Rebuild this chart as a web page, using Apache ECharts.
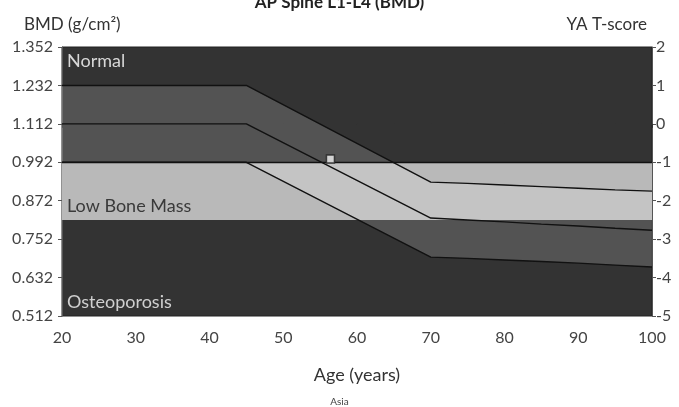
<!DOCTYPE html>
<html>
<head>
<meta charset="utf-8">
<script src="https://cdn.jsdelivr.net/npm/echarts@6/dist/echarts.min.js"></script>
<style>
  html, body { margin: 0; padding: 0; background: #fff; }
  #chart-container { width: 679px; height: 407px; }
</style>
</head>
<body>
<div id="chart-container"></div>
<script>
var dom = document.getElementById("chart-container");
var myChart = echarts.init(dom, null, { renderer: "canvas" });

// reference curve (BMD, g/cm2) by age
var ages = [20, 45, 70, 75, 80, 85, 90, 95, 100];
var upperCurve = [1.232, 1.232, 0.930, 0.926, 0.921, 0.916, 0.911, 0.906, 0.902];
var midCurve = [1.112, 1.112, 0.818, 0.812, 0.806, 0.799, 0.793, 0.786, 0.780];
var lowerCurve = [0.992, 0.992, 0.696, 0.692, 0.687, 0.682, 0.677, 0.671, 0.665];

// patient
var patientAge = [56.4];
var patientBmd = [1.002];

// young adult mean and SD used for the T-score axis
var youngMean = 1.112;
var youngSd = 0.12;

// zone limits in T-score
var zoneLimits = [2, -1, -2.5, -5];
var zoneNames = ["Normal", "Low Bone Mass", "Osteoporosis"];
var ageRange = [20, 100];

function toT(b) {
  return (b - youngMean) / youngSd;
}
function pairs(xs, ys) {
  return xs.map(function (x, i) {
    return [x, toT(ys[i])];
  });
}

var darkZone = "#333333";
var lightZone = "#b9b9b9";
var font = "Lato";

function zoneLabel(name, pos, color) {
  return { show: true, position: pos, distance: 5, formatter: name, color: color, fontSize: 18, fontFamily: font };
}

var option = {
  backgroundColor: "#fff",
  textStyle: { fontFamily: font },
  animation: false,
  title: [
    {
      text: "AP Spine L1-L4 (BMD)",
      left: "center",
      top: -11,
      textStyle: { fontSize: 17, fontWeight: "bold", color: "#222", fontFamily: font }
    },
    {
      text: "BMD (g/cm²)",
      left: 19,
      top: 11,
      textStyle: { fontSize: 17, fontWeight: "normal", color: "#333", fontFamily: font }
    },
    {
      text: "YA T-score",
      right: 27,
      top: 11,
      textStyle: { fontSize: 17, fontWeight: "normal", color: "#333", fontFamily: font }
    },
    {
      text: "Asia",
      left: "center",
      top: 392,
      textStyle: { fontSize: 10, fontWeight: "normal", color: "#444", fontFamily: font }
    }
  ],
  grid: { left: 62, right: 27, top: 47, bottom: 91, show: true, backgroundColor: darkZone, borderColor: "#222", borderWidth: 1 },
  xAxis: {
    type: "value",
    min: ageRange[0],
    max: ageRange[1],
    interval: 5,
    name: "Age (years)",
    nameLocation: "middle",
    nameGap: 50,
    nameTextStyle: { fontSize: 18, color: "#333" },
    axisLine: { lineStyle: { color: "#333" } },
    axisTick: { length: 4, lineStyle: { color: "#333" } },
    axisLabel: {
      fontSize: 16,
      color: "#444",
      margin: 14,
      formatter: function (v) {
        return v % 10 === 0 ? v : "";
      }
    },
    splitLine: { show: false }
  },
  yAxis: [
    {
      type: "value",
      position: "left",
      min: -5,
      max: 2,
      interval: 1,
      axisLine: { show: true, lineStyle: { color: "#555" } },
      axisTick: { show: true, length: 4, lineStyle: { color: "#555" } },
      axisLabel: {
        fontSize: 16,
        color: "#444",
        margin: 9,
        formatter: function (v) {
          return (youngMean + youngSd * v).toFixed(3);
        }
      },
      splitLine: { show: false }
    },
    {
      type: "value",
      position: "right",
      min: -5,
      max: 2,
      interval: 1,
      axisLine: { show: true, lineStyle: { color: "#555" } },
      axisTick: { show: true, length: 4, lineStyle: { color: "#555" } },
      axisLabel: { fontSize: 16, color: "#444", margin: 4 },
      splitLine: { show: false }
    }
  ],
  series: [
    {
      name: "light zone",
      type: "custom",
      silent: true,
      z: 1,
      data: [[ageRange[0], zoneLimits[2], ageRange[1], zoneLimits[1]]],
      encode: { x: [0, 2], y: [1, 3] },
      renderItem: function (params, api) {
        var p0 = api.coord([api.value(0), api.value(3)]);
        var p1 = api.coord([api.value(2), api.value(1)]);
        return {
          type: "rect",
          shape: { x: p0[0], y: p0[1], width: p1[0] - p0[0], height: p1[1] - p0[1] },
          style: { fill: lightZone }
        };
      },
      markArea: {
        silent: true,
        itemStyle: { color: "rgba(0,0,0,0)" },
        data: [
          [{ yAxis: zoneLimits[1], label: zoneLabel(zoneNames[0], "insideTopLeft", "#d8d8d8") }, { yAxis: zoneLimits[0] }],
          [{ yAxis: zoneLimits[2], label: zoneLabel(zoneNames[1], "insideBottomLeft", "#3a3a3a") }, { yAxis: zoneLimits[1] }],
          [{ yAxis: zoneLimits[3], label: zoneLabel(zoneNames[2], "insideBottomLeft", "#d0d0d0") }, { yAxis: zoneLimits[2] }]
        ]
      },
      markLine: {
        silent: true,
        symbol: "none",
        label: { show: false },
        lineStyle: { color: "#111", width: 1.4, type: "solid" },
        data: [{ yAxis: zoneLimits[1] }]
      }
    },
    {
      name: "reference band",
      type: "custom",
      silent: true,
      z: 2,
      data: pairs(ages, upperCurve),
      encode: { x: 0, y: 1 },
      renderItem: function (params, api) {
        if (params.dataIndex !== 0) return;
        var top = ages.map(function (a, i) { return api.coord([a, toT(upperCurve[i])]); });
        var bottom = ages.map(function (a, i) { return api.coord([a, toT(lowerCurve[i])]); }).reverse();
        return {
          type: "polygon",
          shape: { points: top.concat(bottom) },
          style: { fill: "rgba(255,255,255,0.16)" }
        };
      }
    },
    {
      type: "line",
      data: pairs(ages, upperCurve),
      symbol: "none",
      lineStyle: { color: "#111", width: 1.4 },
      z: 3
    },
    {
      type: "line",
      data: pairs(ages, midCurve),
      symbol: "none",
      lineStyle: { color: "#111", width: 1.4 },
      z: 3
    },
    {
      type: "line",
      data: pairs(ages, lowerCurve),
      symbol: "none",
      lineStyle: { color: "#111", width: 1.4 },
      z: 3
    },
    {
      type: "scatter",
      data: pairs(patientAge, patientBmd),
      symbol: "rect",
      symbolSize: 8,
      itemStyle: { color: "#f4f4f4", borderColor: "#222", borderWidth: 1.5 },
      z: 5
    }
  ]
};

myChart.setOption(option);
window.addEventListener("resize", myChart.resize);
</script>
</body>
</html>
